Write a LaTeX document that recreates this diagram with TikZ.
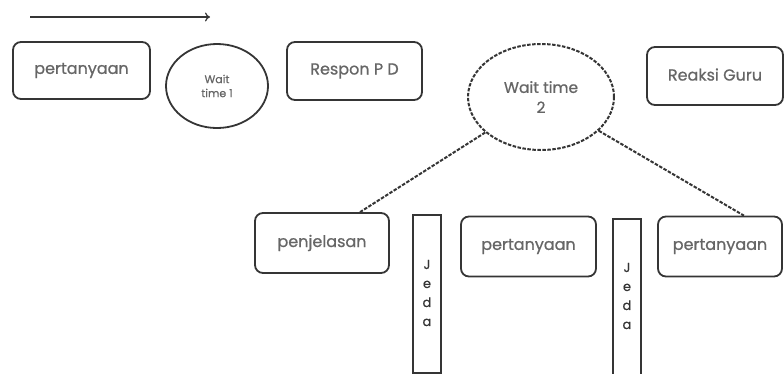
\documentclass[tikz,border=0pt]{standalone}
\usepackage{fontspec}
\setmainfont{Poppins}
\newfontfamily\boxfont{Poppins}[FakeBold=0.8]
\usetikzlibrary{shapes.geometric,arrows.meta,calc}
\definecolor{ink}{HTML}{353535}
\definecolor{txt}{HTML}{666666}
\tikzset{
  rbox/.style={draw=ink, line width=1.8pt, rounded corners=8pt, text=txt, font=\boxfont\fontsize{16}{18}\selectfont},
  jedabox/.style={draw=ink, line width=1.8pt, inner sep=0pt},
  jedatext/.style={text=ink, font=\boxfont\fontsize{13}{19}\selectfont, align=center, inner sep=0pt},
  dashline/.style={draw=ink, line width=2pt, dash pattern=on 3.5pt off 1.5pt},
}
\begin{document}
\begin{tikzpicture}[x=1pt,y=-1pt]
\useasboundingbox (0,0) rectangle (784,373);
% top arrow
\coordinate (a1) at (30,17);
\coordinate (a2) at (210,17);
\draw[ink, line width=1.2pt, -{To[length=5pt,width=9pt]}] (a1) -- (a2);
% top row
\node[rbox, minimum width=137pt, minimum height=57pt] (p1) at (81.5,70.5) {\raisebox{2pt}{pertanyaan}};
\node[draw=ink, line width=1.8pt, ellipse, minimum width=102pt, minimum height=84pt, text=txt, align=center, font=\boxfont\fontsize{11}{14}\selectfont] (w1) at (217,86) {Wait\\time 1};
\node[rbox, minimum width=135pt, minimum height=58pt] (rp) at (354.5,71) {\raisebox{4pt}{Respon P D}};
\node[ellipse, dashline, minimum width=146pt, minimum height=106pt, text=txt, align=center, font=\boxfont\fontsize{15.5}{20}\selectfont] (w2) at (541,97) {Wait time\\2};
\node[rbox, minimum width=136pt, minimum height=58pt] (rg) at (715,76) {\raisebox{3pt}{Reaksi Guru}};
% bottom row
\node[rbox, minimum width=134pt, minimum height=60pt] (pj) at (322,243) {\raisebox{3pt}{penjelasan}};
\node[rbox, minimum width=135pt, minimum height=60pt] (p2) at (528.5,246.5) {\raisebox{3pt}{pertanyaan}};
\node[rbox, minimum width=124pt, minimum height=60pt] (p3) at (720,246.5) {\raisebox{3pt}{pertanyaan}};
\node[jedabox, minimum width=28pt, minimum height=158pt] (j1) at (427,294) {};
\node[jedatext] (jt1) at (427,293) {J\\e\\d\\a};
\node[jedabox, minimum width=28pt, minimum height=156pt] (j2) at (627,297) {};
\node[jedatext] (jt2) at (627,296) {J\\e\\d\\a};
% connectors
\coordinate (e1) at ($(pj.north west)!0.78!(pj.north east)$);
\coordinate (e2) at ($(p3.north west)!0.69!(p3.north east)$);
\draw[dashline] (w2) -- (e1);
\draw[dashline] (w2) -- (e2);
\end{tikzpicture}
\end{document}
